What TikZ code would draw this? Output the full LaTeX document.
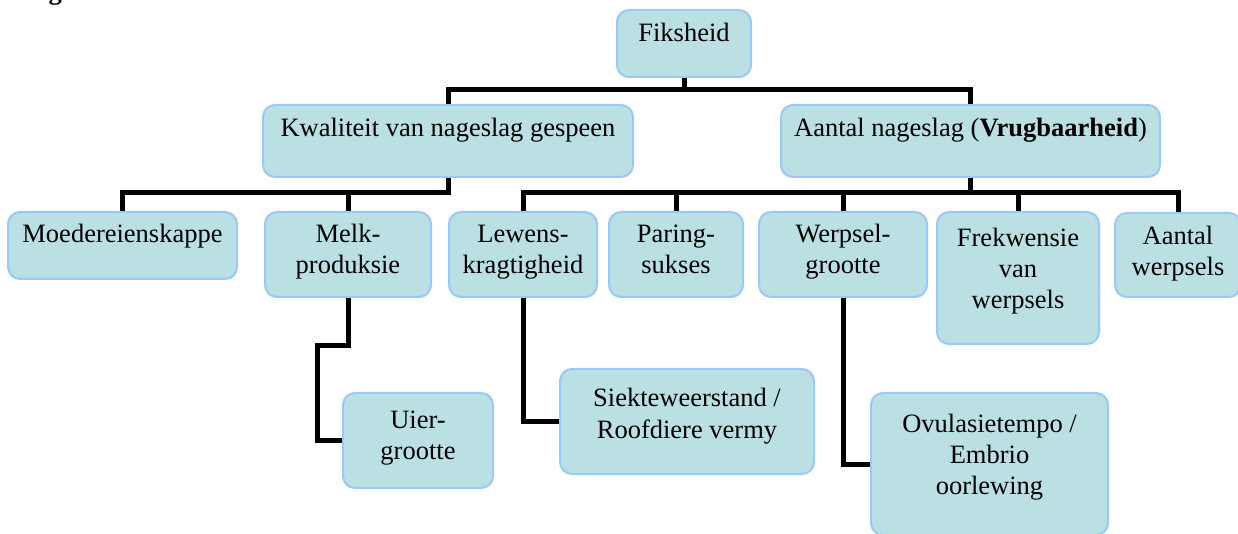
\documentclass[tikz,border=0pt]{standalone}
\usepackage{fontspec}
\setmainfont{Liberation Serif}
\usepackage{tikz}
\usepackage{xcolor}
\definecolor{boxfill}{RGB}{186,224,228}
\definecolor{boxline}{RGB}{155,200,245}
\begin{document}
\begin{tikzpicture}[x=0.5pt,y=-0.5pt,font=\fontsize{13.25}{15.5}\selectfont,
  cell/.style={draw=boxline,fill=boxfill,line width=1pt,rounded corners=6pt,inner sep=0pt},
  link/.style={line width=2.5pt}]
\useasboundingbox (0,0) rectangle (1238,534);
\newcommand{\block}[6]{\node[cell] (#1) at (#2) {\parbox[c][#4][t]{#3}{\centering\vspace*{#5}\strut #6}};}
\node[anchor=base west,font=\fontsize{13.25}{15.5}\selectfont\bfseries] (caption) at (18,0) {Figuur};
\block{fit}{684,43.5}{67pt}{33.5pt}{5.15pt}{Fiksheid}
\block{qual}{448,141}{185pt}{36pt}{5.15pt}{Kwaliteit van nageslag gespeen}
\block{num}{970.5,141}{189.5pt}{36pt}{5.15pt}{Aantal nageslag (\textbf{Vrugbaarheid})}
\block{mother}{122.5,245.5}{114.5pt}{33.5pt}{4.65pt}{Moedereienskappe}
\block{milk}{348,254.5}{83pt}{42.5pt}{4.65pt}{Melk-\\produksie}
\block{life}{523,254.5}{74pt}{42.5pt}{4.65pt}{Lewens-\\kragtigheid}
\block{mating}{676,254.5}{67pt}{42.5pt}{4.65pt}{Paring-\\sukses}
\block{litter}{843,254.5}{84pt}{42.5pt}{4.65pt}{Werpsel-\\grootte}
\block{freq}{1018,278}{81pt}{66pt}{6.65pt}{Frekwensie\\van\\werpsels}
\block{litters}{1178,255}{63pt}{42pt}{5.15pt}{Aantal\\werpsels}
\block{udder}{418,440.5}{75pt}{47.5pt}{6.65pt}{Uier-\\grootte}
\block{disease}{687,421.5}{127pt}{52.5pt}{8.15pt}{Siekteweerstand /\\Roofdiere vermy}
\block{ovul}{989.5,464}{118.5pt}{71pt}{9.15pt}{Ovulasietempo /\\Embrio\\oorlewing}
\coordinate (top) at (fit.south |- 0,90);
\coordinate (left) at (qual.south |- 0,193);
\coordinate (right) at (num.south |- 0,193);
\draw[link] (fit.south) -- (top);
\draw[link] (qual.north) |- (top) -| (num.north);
\draw[link] (qual.south) -- (left) -| (mother.north);
\draw[link] (left) -| (milk.north);
\draw[link] (num.south) -- (right) -| (litters.north);
\draw[link] (right) -| (life.north);
\foreach \n in {mating,litter,freq} \draw[link] (right -| \n.north) -- (\n.north);
\draw[link] (milk.south) -- ++(0,48) -- ++(-31,0) |- (udder.west);
\draw[link] (life.south) |- (disease.west);
\draw[link] (litter.south) |- (ovul.west);
\end{tikzpicture}
\end{document}
